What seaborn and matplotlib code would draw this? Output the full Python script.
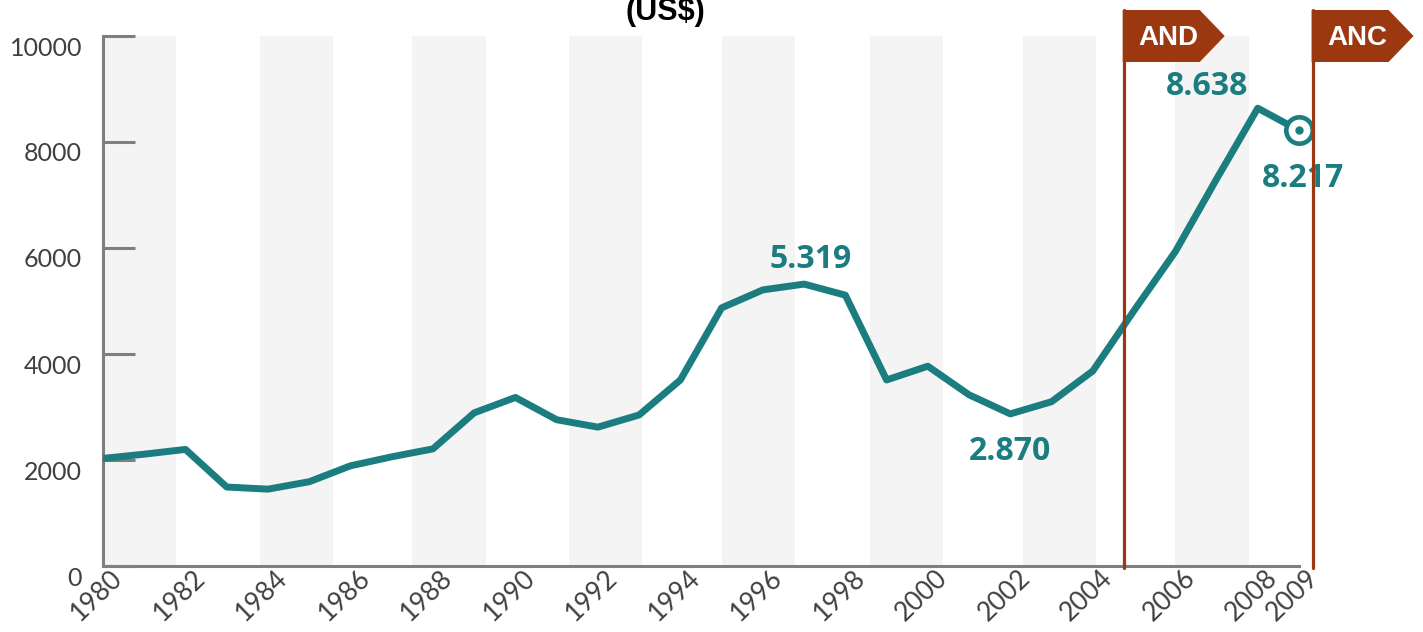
import matplotlib
matplotlib.use("Agg")
import matplotlib.pyplot as plt
import matplotlib.transforms as mtransforms
from matplotlib.patches import Polygon
import seaborn as sns

# ---------------- data ----------------
years = list(range(1980, 2010))
gdp = [2030, 2110, 2200, 1490, 1450, 1590, 1890, 2060, 2210, 2890,
       3180, 2760, 2620, 2850, 3510, 4870, 5210, 5319, 5110, 3510,
       3770, 3230, 2870, 3100, 3680, 4820, 5930, 7300, 8638, 8217]
x_tick_years = [1980, 1982, 1984, 1986, 1988, 1990, 1992, 1994, 1996,
                1998, 2000, 2002, 2004, 2006, 2008, 2009]
y_ticks = [0, 2000, 4000, 6000, 8000, 10000]
highlight_years = [1997, 2008, 2009, 2002]
event_years = [2004.75, 2009.33]
event_labels = ["AND", "ANC"]
band_starts = [1980, 1983.8, 1987.5, 1991.3, 1995.0, 1998.6, 2002.3, 2006.0]
band_width = 1.78
title = "(US$)"

# ---------------- style ----------------
teal = "#1b7d7f"
rust = "#9c3810"
grey_axis = "#7f7f7f"
label_col = "#404040"

sns.set_style("white")
plt.rcParams["font.family"] = ["Lato", "DejaVu Sans"]

fig = plt.figure(figsize=(14.23, 6.32), dpi=100)
ax = fig.add_axes([103 / 1423, 1 - 566 / 632, (1299 - 103) / 1423, (566 - 36) / 632])

for s in band_starts:
    ax.axvspan(s, s + band_width, color="#f4f4f4", zorder=0, lw=0)

sns.lineplot(x=years, y=gdp, ax=ax, color=teal, linewidth=5, zorder=3)

# final point marker
ax.plot([years[-1]], [gdp[-1]], marker="o", ms=19, mfc="white", mec=teal,
        mew=3.3, zorder=5, clip_on=False, linestyle="none")
ax.plot([years[-1]], [gdp[-1]], marker="o", ms=5, color=teal, zorder=5,
        clip_on=False, linestyle="none")

ax.set_xlim(1980, 2009)
ax.set_ylim(0, 10000)

for side in ["top", "right"]:
    ax.spines[side].set_visible(False)
for side in ["left", "bottom"]:
    ax.spines[side].set_color(grey_axis)
    ax.spines[side].set_linewidth(2.2)

ax.set_xticks(x_tick_years)
ax.set_xticklabels([str(y) for y in x_tick_years])
ax.set_yticks(y_ticks)
ax.set_yticklabels([str(v) for v in y_ticks])
ax.tick_params(axis="x", bottom=False, length=0, pad=6, labelsize=19,
               labelcolor=label_col)
ax.tick_params(axis="y", left=True, direction="in", length=23, width=2.2,
               color=grey_axis, pad=15, labelsize=18, labelcolor=label_col)
ax.set_xlabel("")
ax.set_ylabel("")

for lab in ax.get_xticklabels():
    lab.set_rotation(44)
    lab.set_ha("right")
    lab.set_va("center")
    lab.set_rotation_mode("anchor")
    lab.set_transform(lab.get_transform()
                      + mtransforms.ScaledTranslation(0.16, 0, fig.dpi_scale_trans))
for lab in ax.get_yticklabels():
    lab.set_transform(lab.get_transform()
                      + mtransforms.ScaledTranslation(0, -0.10, fig.dpi_scale_trans))

# value annotations
offsets = {1997: (7, 25), 2008: (-51, 22), 2009: (4, -48), 2002: (0, -38)}
for yr in highlight_years:
    v = gdp[years.index(yr)]
    ax.annotate(f"{v:,}".replace(",", "."), xy=(yr, v), xytext=offsets[yr],
                textcoords="offset pixels", ha="center", va="center",
                fontsize=23, fontweight="bold", color=teal,
                family=["Open Sans", "DejaVu Sans"], zorder=6,
                annotation_clip=False)

# event lines with flags
blended = mtransforms.blended_transform_factory(ax.transData, ax.transAxes)
for ex, el in zip(event_years, event_labels):
    ax.plot([ex, ex], [-0.004, 1.0 + 26 / 530], transform=blended, color=rust,
            lw=2.3, clip_on=False, zorder=7)
    tr = mtransforms.Affine2D() + mtransforms.ScaledTranslation(ex, 1.0, blended)
    verts = [(-1, -26), (76, -26), (101, 0), (76, 26), (-1, 26)]
    flag = Polygon(verts, closed=True, transform=tr, facecolor=rust,
                   edgecolor="none", clip_on=False, zorder=8)
    ax.add_artist(flag)
    ax.annotate(el, xy=(ex, 1.0), xycoords=blended, xytext=(45, -2),
                textcoords="offset pixels", ha="center", va="center",
                fontsize=20, fontweight="bold", color="white",
                family=["Liberation Sans", "DejaVu Sans"], zorder=9,
                annotation_clip=False)

fig.text(665 / 1423, 0.968, title, ha="center", va="baseline", fontsize=22,
         fontweight="bold", color="black", family=["Liberation Sans", "DejaVu Sans"])

fig.savefig("out.png", dpi=100)
